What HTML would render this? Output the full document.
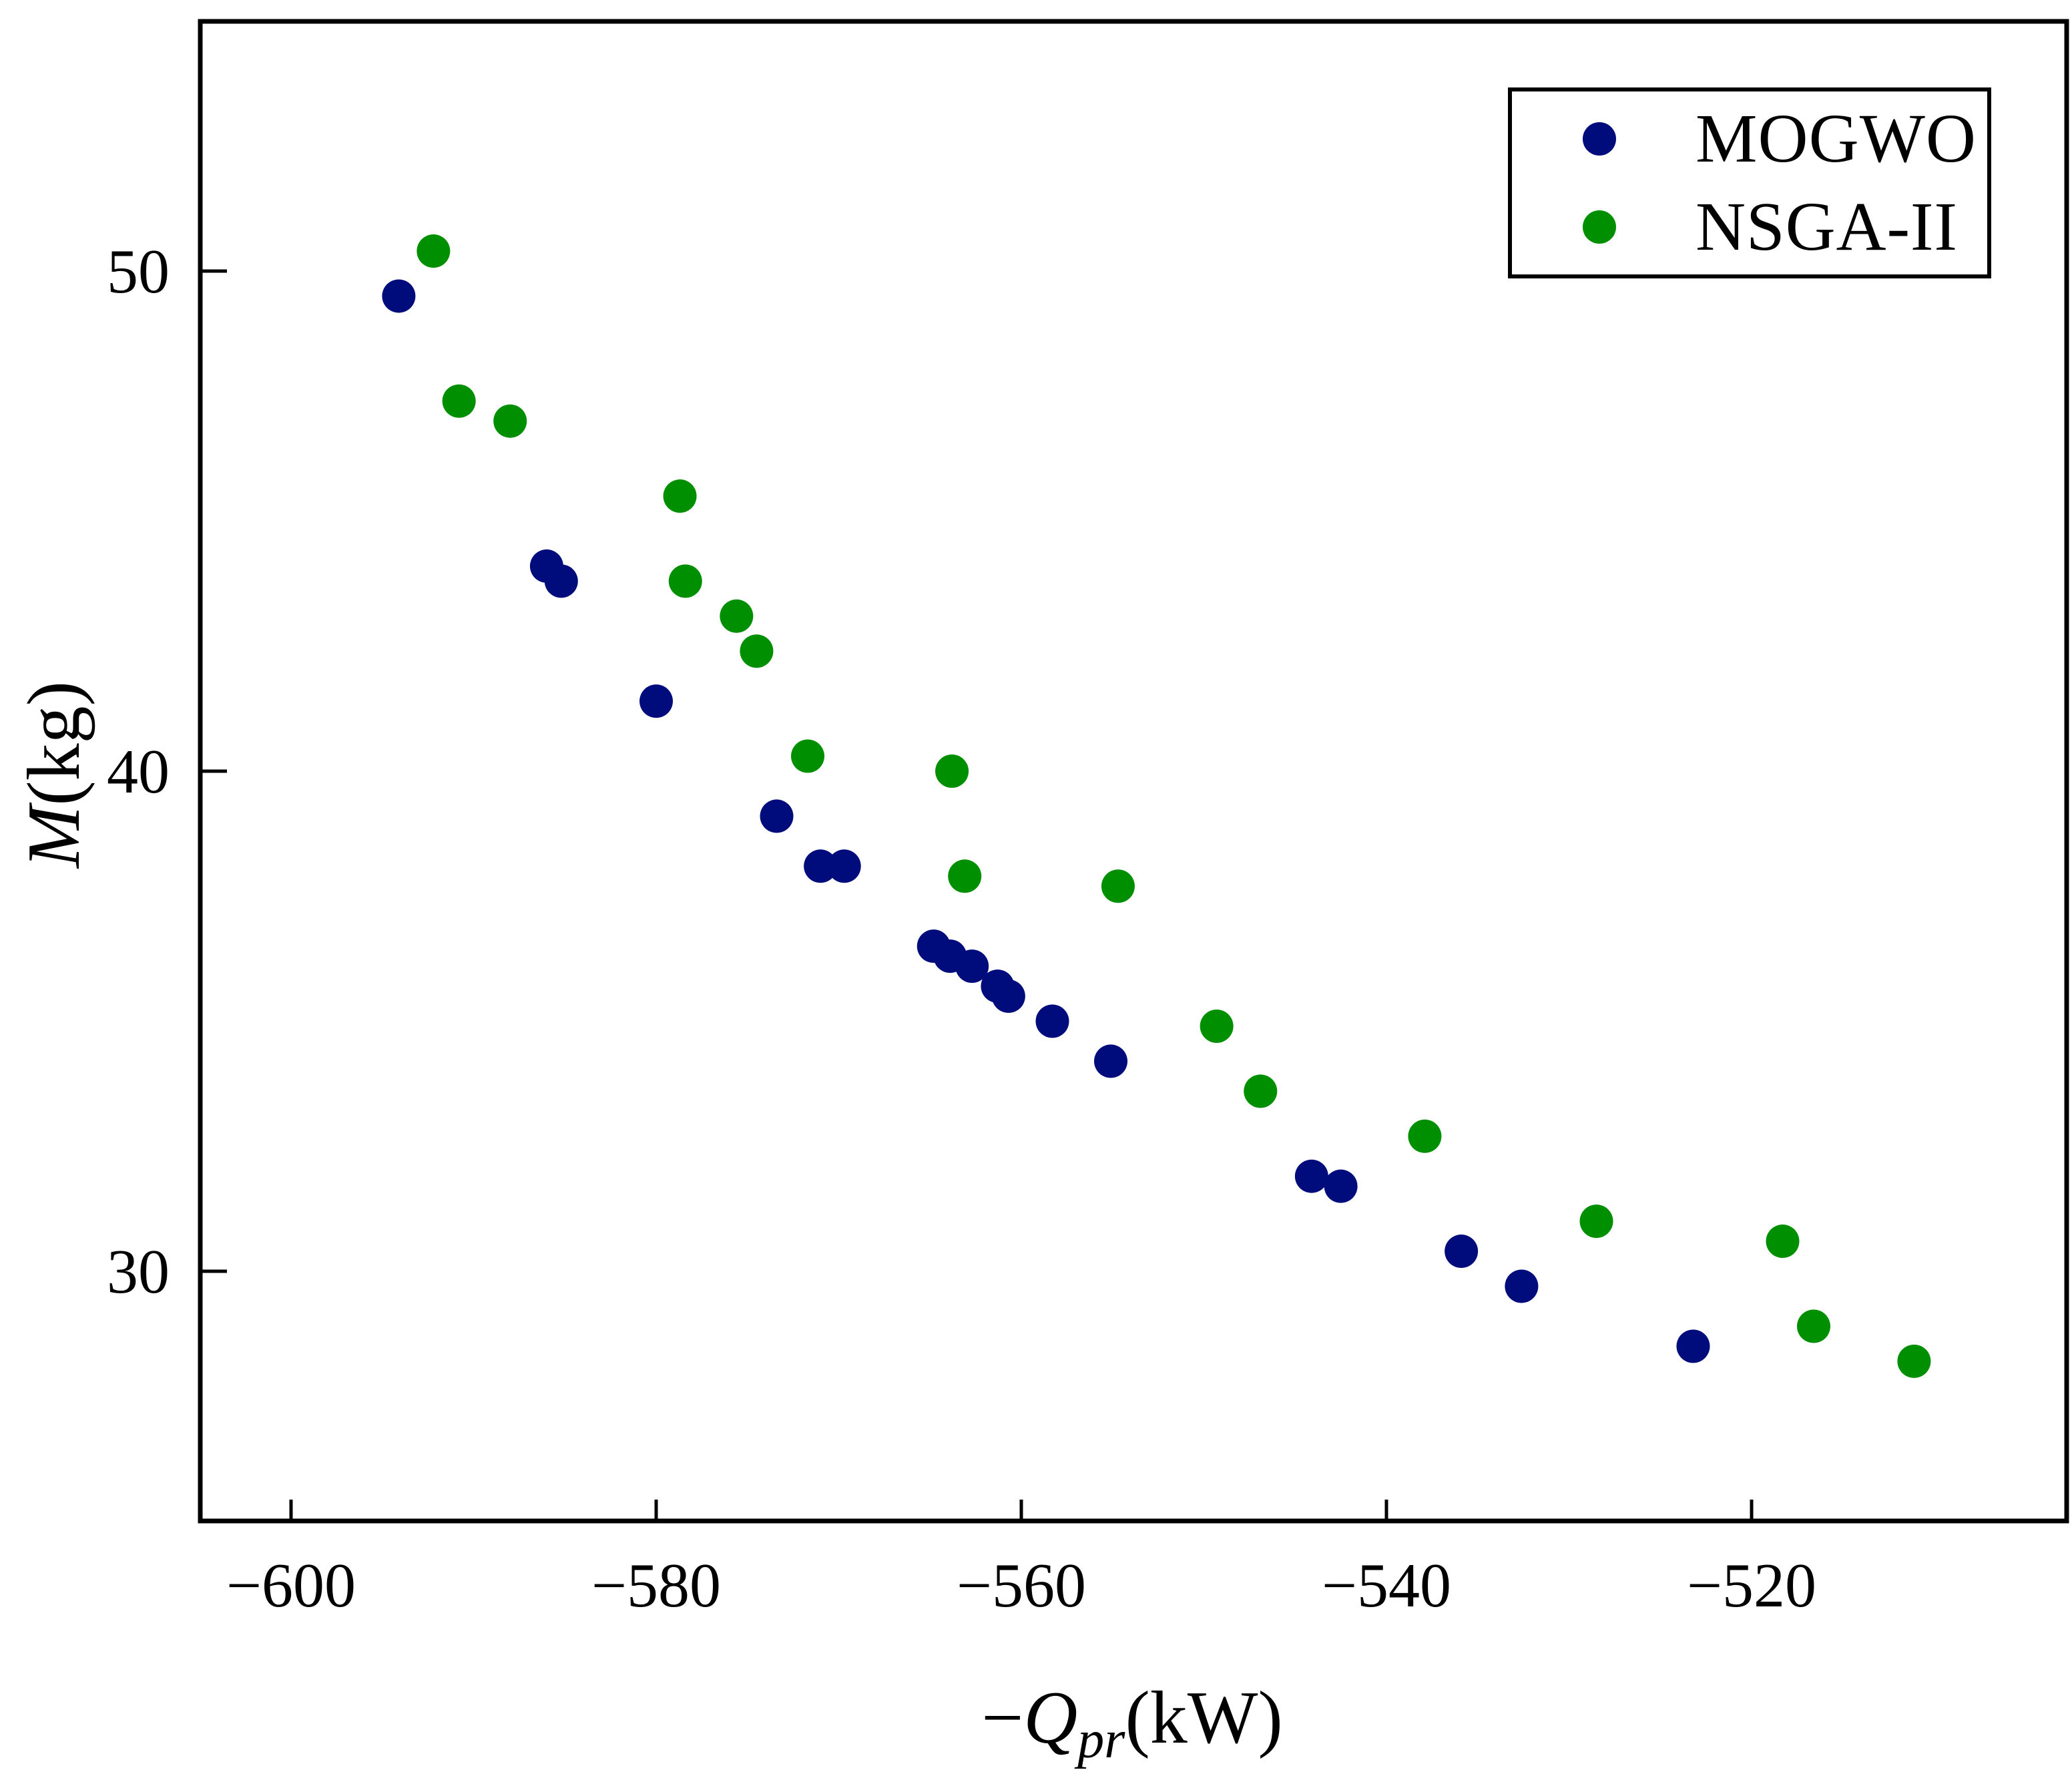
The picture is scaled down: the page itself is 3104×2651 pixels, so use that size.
<!DOCTYPE html>
<html><head><meta charset="utf-8"><style>
html,body{margin:0;padding:0;background:#fff;}
svg{display:block;font-family:"Liberation Serif",serif;}
</style></head><body>
<svg id="chart" width="3104" height="2651" viewBox="0 0 3104 2651">
<rect x="300" y="32" width="2796" height="2246" fill="none" stroke="#000" stroke-width="7"/>
<g id="xticks"></g>
<g id="yticks"></g>
<g id="points"></g>
<text x="1696" y="2610" font-size="112" text-anchor="middle">−<tspan font-style="italic">Q</tspan><tspan font-style="italic" font-size="80" dy="22">pr</tspan><tspan dy="-22">(kW)</tspan></text>
<text transform="translate(118,1160) rotate(-90)" font-size="112" text-anchor="middle"><tspan font-style="italic">M</tspan>(kg)</text>
<g>
<rect x="2262" y="134" width="718" height="280" fill="#fff" stroke="#000" stroke-width="6"/>
<circle cx="2396" cy="208" r="25" fill="#000C7B"/>
<text x="2540" y="242" font-size="104" textLength="420">MOGWO</text>
<circle cx="2396" cy="340" r="25" fill="#008F00"/>
<text x="2540" y="374" font-size="104" textLength="392">NSGA-II</text>
</g>
</svg>
<script>
const xTicks=[-600,-580,-560,-540,-520];
const yTicks=[30,40,50];
const mogwoX=[-594.1,-586.0,-585.2,-580.0,-573.4,-571.0,-569.7,-564.8,-563.9,-562.7,-561.3,-560.7,-558.3,-555.1,-544.1,-542.5,-535.9,-532.6,-523.2];
const mogwoY=[49.5,44.1,43.8,41.4,39.1,38.1,38.1,36.5,36.3,36.1,35.7,35.5,35.0,34.2,31.9,31.7,30.4,29.7,28.5];
const nsgaX=[-592.2,-590.8,-588.0,-578.7,-578.4,-575.6,-574.5,-571.7,-563.8,-563.1,-554.7,-549.3,-546.9,-537.9,-528.5,-518.3,-516.6,-511.1];
const nsgaY=[50.4,47.4,47.0,45.5,43.8,43.1,42.4,40.3,40.0,37.9,37.7,34.9,33.6,32.7,31.0,30.6,28.9,28.2];
const NS="http://www.w3.org/2000/svg";
function sx(v){return 436+(v+600)*27.35;}
function sy(v){return 406+(50-v)*74.9;}
const gx=document.getElementById('xticks'),gy=document.getElementById('yticks'),gp=document.getElementById('points');
xTicks.forEach(t=>{
 const l=document.createElementNS(NS,'line');
 l.setAttribute('x1',sx(t));l.setAttribute('x2',sx(t));l.setAttribute('y1',2278);l.setAttribute('y2',2246);
 l.setAttribute('stroke','#000');l.setAttribute('stroke-width','5');
 
 
 gx.appendChild(l);
 const tx=document.createElementNS(NS,'text');
 tx.setAttribute('x',sx(t));tx.setAttribute('y',2406);tx.setAttribute('font-size','94');tx.setAttribute('text-anchor','middle');
 tx.textContent='−'+Math.abs(t);
 
 
 gx.appendChild(tx);
});
yTicks.forEach(t=>{
 const l=document.createElementNS(NS,'line');
 l.setAttribute('x1',300);l.setAttribute('x2',340);l.setAttribute('y1',sy(t));l.setAttribute('y2',sy(t));
 l.setAttribute('stroke','#000');l.setAttribute('stroke-width','5');
 
 
 gy.appendChild(l);
 const tx=document.createElementNS(NS,'text');
 tx.setAttribute('x',254);tx.setAttribute('y',sy(t)+32);tx.setAttribute('font-size','94');tx.setAttribute('text-anchor','end');
 tx.textContent=t;
 
 
 gy.appendChild(tx);
});
function plot(xs,ys,color,name){
 xs.forEach((x,i)=>{
  const c=document.createElementNS(NS,'circle');
  c.setAttribute('cx',sx(x));c.setAttribute('cy',sy(ys[i]));c.setAttribute('r',25);c.setAttribute('fill',color);
  
  
  gp.appendChild(c);
 });
}
plot(mogwoX,mogwoY,'#000C7B','mogwo-point');
plot(nsgaX,nsgaY,'#008F00','nsga2-point');
</script>
</body></html>
